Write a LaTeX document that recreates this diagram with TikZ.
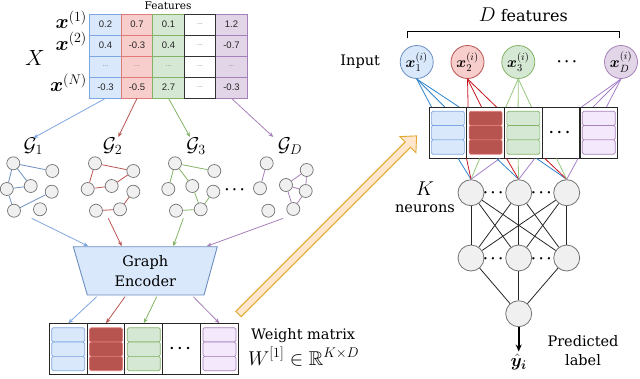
\RequirePackage{fix-cm}
\documentclass[tikz,border=0pt]{standalone}
\usepackage{amsmath,amssymb,bm}
\usepackage{fontspec}
\newfontfamily\dvs{DejaVu Serif}
\newfontfamily\lsans{Liberation Sans}
\usetikzlibrary{arrows.meta,calc}
\definecolor{bfill}{HTML}{DAE8FC}
\definecolor{bline}{HTML}{7EA6E0}
\definecolor{bdark}{HTML}{6C8EBF}
\definecolor{rfill}{HTML}{F8CECC}
\definecolor{rline}{HTML}{B85450}
\definecolor{rline2}{HTML}{E07A76}
\definecolor{rdark}{HTML}{B85450}
\definecolor{gfill}{HTML}{D5E8D4}
\definecolor{gline}{HTML}{82B366}
\definecolor{pfill}{HTML}{E1D5E7}
\definecolor{pline}{HTML}{A680B8}
\definecolor{plight}{HTML}{F4E8FC}
\definecolor{orfill}{HTML}{FFE6CC}
\definecolor{orline}{HTML}{E0A82E}
\definecolor{nblue}{HTML}{2F84CC}
\definecolor{nred}{HTML}{C8141E}
\definecolor{ngreen}{HTML}{97C77E}
\definecolor{npurple}{HTML}{A680C8}
\newcommand{\celldots}{\textcolor{black!50}{\fontsize{7}{7}\selectfont...}}
\newcommand{\mcolumn}[5]{%
  \node[mcol] (#1) at (#2,#3) {};
  \node[inr, fill=#4, draw=#5] (#1a) at ($(#1)+(0,-14.3)$) {};
  \node[inr, fill=#4, draw=#5] (#1b) at (#1) {};
  \node[inr, fill=#4, draw=#5] (#1c) at ($(#1)+(0,14.3)$) {};
}
\begin{document}
\begin{tikzpicture}[x=1pt,y=-1pt,
  cell/.style={draw, minimum width=31.5pt, minimum height=21pt, inner sep=0pt, line width=0.7pt, font=\lsans\fontsize{9.5}{10}\selectfont, text=black!85},
  cb/.style={cell, fill=bfill, draw=bline},
  cr/.style={cell, fill=rfill, draw=rline2},
  cg/.style={cell, fill=gfill, draw=gline},
  ck/.style={cell, fill=white, draw=black!80, line width=0.9pt},
  cp/.style={cell, fill=pfill, draw=pline},
  gn/.style={circle, draw=black!55, fill=black!6, line width=0.7pt, minimum size=13pt, inner sep=0pt},
  neu/.style={circle, draw=black!55, fill=black!6, line width=0.8pt, minimum size=26pt, inner sep=0pt},
  inp/.style={circle, line width=0.8pt, minimum size=33pt, inner sep=0pt, font=\fontsize{15}{15}\selectfont},
  mcol/.style={draw=black!85, line width=0.9pt, minimum width=37.8pt, minimum height=51pt, inner sep=0pt},
  inr/.style={rounded corners=1.5pt, minimum width=33pt, minimum height=14.3pt, inner sep=0pt, line width=0.7pt},
  arr/.style={-{Stealth[length=5pt,width=4pt]}, line width=0.8pt},
  ln/.style={line width=0.8pt},
  txt/.style={font=\dvs\fontsize{14.5}{18}\selectfont, inner sep=0pt},
  mth/.style={font=\fontsize{20}{24}\selectfont, inner sep=0pt},
  ddots/.style={font=\fontsize{15}{15}\selectfont, inner sep=0pt}
]
\useasboundingbox (0,0) rectangle (640,378);

% ---------- orange arrow ----------
\begin{scope}[shift={(238.5,314)}, x=1pt, y=1pt, rotate=45]
  \draw[draw=orline, fill=orfill, line width=0.9pt] (0,-3.8) -- (239.6,-3.8) -- (239.6,-11.3) -- (251.9,0) -- (239.6,11.3) -- (239.6,3.8) -- (0,3.8) -- cycle;
\end{scope}

% ---------- table X ----------
\node[font=\dvs\fontsize{10.5}{12}\selectfont, inner sep=0pt, anchor=base] (feat) at (168,9.5) {Features};
\node[mth, font=\fontsize{22}{26}\selectfont, anchor=base] (X) at (35,65) {$X$};
\node[mth, anchor=base east] (r1) at (87,28.5) {$\bm{x}^{(1)}$};
\node[mth, anchor=base east] (r2) at (87,50) {$\bm{x}^{(2)}$};
\node[mth, anchor=base east] (rN) at (87,91.5) {$\bm{x}^{(N)}$};

\node[cb] (c11) at (105.5,24.5) {0.2};
\node[cb] (c21) at (105.5,45.5) {0.4};
\node[cb] (c31) at (105.5,66.5) {\celldots};
\node[cb] (c41) at (105.5,87.5) {-0.3};
\node[cr] (c12) at (137,24.5) {0.7};
\node[cr] (c22) at (137,45.5) {-0.3};
\node[cr] (c32) at (137,66.5) {\celldots};
\node[cr] (c42) at (137,87.5) {-0.5};
\node[cg] (c13) at (168.5,24.5) {0.1};
\node[cg] (c23) at (168.5,45.5) {0.4};
\node[cg] (c33) at (168.5,66.5) {\celldots};
\node[cg] (c43) at (168.5,87.5) {2.7};
\node[cp] (c15) at (231.5,24.5) {1.2};
\node[cp] (c25) at (231.5,45.5) {-0.7};
\node[cp] (c35) at (231.5,66.5) {\celldots};
\node[cp] (c45) at (231.5,87.5) {-0.3};
\node[ck] (c14) at (200,24.5) {\celldots};
\node[ck] (c24) at (200,45.5) {\celldots};
\node[ck] (c34) at (200,66.5) {\celldots};
\node[ck] (c44) at (200,87.5) {\celldots};

% ---------- graph labels ----------
\node[mth, anchor=base] (G1) at (33.3,151) {$\mathcal{G}_1$};
\node[mth, anchor=base] (G2) at (112.5,151) {$\mathcal{G}_2$};
\node[mth, anchor=base] (G3) at (196,151) {$\mathcal{G}_3$};
\node[mth, anchor=base] (GD) at (290,151) {$\mathcal{G}_D$};

\coordinate (t1) at (33.3,138);
\coordinate (t2) at (118.3,137);
\coordinate (t3) at (190,137);
\coordinate (t4) at (273.3,137);
\draw[arr, bline] (c41.south) -- (t1);
\draw[arr, rline] (c42.south) -- (t2);
\draw[arr, gline] (c43.south) -- (t3);
\draw[arr, pline] (c45.south) -- (t4);

% ---------- graphs ----------
\node[gn] (g1a) at (13.3,163.3) {};
\node[gn] (g1b) at (52.3,171) {};
\node[gn] (g1c) at (6.8,189) {};
\node[gn] (g1d) at (30.7,186) {};
\node[gn] (g1e) at (51.7,191.7) {};
\node[gn] (g1f) at (14,210.7) {};
\node[gn] (g1g) at (40,209.3) {};
\draw[ln, bdark] (g1a) -- (g1b) (g1a) -- (g1d) (g1a) -- (g1c) (g1c) -- (g1d) (g1c) -- (g1f) (g1f) -- (g1e);

\node[gn] (g2a) at (95,163.3) {};
\node[gn] (g2b) at (133.3,171) {};
\node[gn] (g2c) at (87.7,189) {};
\node[gn] (g2d) at (111.7,186) {};
\node[gn] (g2e) at (133.3,191.7) {};
\node[gn] (g2f) at (96,210.7) {};
\node[gn] (g2g) at (120,209.3) {};
\draw[ln, rline] (g2a) -- (g2b) (g2a) -- (g2c) (g2c) -- (g2d) (g2d) -- (g2b) (g2e) -- (g2g) (g2f) -- (g2g);

\node[gn] (g3a) at (175,163.3) {};
\node[gn] (g3b) at (214.3,171) {};
\node[gn] (g3c) at (168.3,189) {};
\node[gn] (g3d) at (192.3,186) {};
\node[gn] (g3e) at (213.3,191.7) {};
\node[gn] (g3f) at (176,210.7) {};
\node[gn] (g3g) at (200.7,209.3) {};
\draw[ln, gline] (g3a) -- (g3b) (g3a) -- (g3c) (g3a) -- (g3d) (g3d) -- (g3g) (g3g) -- (g3e) (g3f) -- (g3g);

\node[ddots] (gdots) at (236,190) {$\bm{\cdots}$};

\node[gn] (g4a) at (266.7,163.3) {};
\node[gn] (g4c) at (260,188.3) {};
\node[gn] (g4f) at (268.3,210.7) {};
\node[gn] (g4b) at (306.7,170) {};
\node[gn] (g4d) at (286,185) {};
\node[gn] (g4e) at (305.7,191) {};
\node[gn] (g4g) at (293.3,209) {};
\draw[ln, pline] (g4a) -- (g4c) (g4d) -- (g4b) (g4d) -- (g4e) (g4b) -- (g4e) (g4d) -- (g4g) (g4e) -- (g4g);

% ---------- encoder ----------
\coordinate (encTL) at (73.3,246.7);
\coordinate (encTR) at (217.3,246.7);
\coordinate (encBR) at (204,295);
\coordinate (encBL) at (87.3,295);
\draw[fill=bfill, draw=bdark, line width=0.9pt] (encTL) -- (encTR) -- (encBR) -- (encBL) -- cycle;
\node[txt, anchor=base] (enc1) at (145.3,266.7) {Graph};
\node[txt, anchor=base] (enc2) at (145.3,286.7) {Encoder};

\coordinate (s1) at (31.7,218.3);
\coordinate (s2) at (108.3,218.3);
\coordinate (s3) at (183.3,218.3);
\coordinate (s4) at (283.3,218.3);
\coordinate (e1) at (88.3,246.2);
\coordinate (e2) at (121.7,246.2);
\coordinate (e3) at (173.3,246.2);
\coordinate (e4) at (206.7,246.2);
\draw[arr, bline] (s1) -- (e1);
\draw[arr, rline] (s2) -- (e2);
\draw[arr, gline] (s3) -- (e3);
\draw[arr, pline] (s4) -- (e4);

% ---------- weight matrix (left) ----------
\mcolumn{w1}{68.2}{349.2}{bfill}{bline}
\mcolumn{w2}{106}{349.2}{rdark}{rline2}
\mcolumn{w3}{143.8}{349.2}{gfill}{gline}
\node[mcol, font=\fontsize{16}{16}\selectfont] (w4) at (181.6,349.2) {$\bm{\cdots}$};
\mcolumn{w5}{219.4}{349.2}{plight}{pline}

\coordinate (b1) at (96.7,296.7);
\coordinate (b2) at (125,296.7);
\coordinate (b3) at (156.7,296.7);
\coordinate (b4) at (193.3,296.7);
\draw[arr, bline] (b1) -- (w1.north);
\draw[arr, rline] (b2) -- (w2.north);
\draw[arr, gline] (b3) -- (w3.north);
\draw[arr, pline] (b4) -- (w5.north);

\node[txt, anchor=base west] (wm) at (251,339) {Weight matrix};
\node[mth, anchor=base west] (wf) at (248,365) {$W^{[1]}\in\mathbb{R}^{K\times D}$};

% ---------- right: inputs ----------
\node[inner sep=0pt, anchor=base, font=\dvs\fontsize{16}{18}\selectfont] (Df) at (523.3,21.7) {{\fontsize{20}{20}\selectfont$D$} features};
\coordinate (brL) at (407.3,38.3);
\coordinate (brR) at (619,38.3);
\draw[line width=1pt] (brL) -- ++(0,-6.6) -| (brR);

\node[txt, anchor=base] (inlab) at (360.2,65.7) {Input};
\node[inp, fill=bfill, draw=bdark] (in1) at (416.7,62) {$\bm{x}_1^{(i)}$};
\node[inp, fill=rfill, draw=rline] (in2) at (467.5,62) {$\bm{x}_2^{(i)}$};
\node[inp, fill=gfill, draw=gline] (in3) at (518.3,62) {$\bm{x}_3^{(i)}$};
\node[ddots] (indots) at (568.3,61.7) {$\bm{\cdots}$};
\node[inp, fill=pfill, draw=pline] (inD) at (621,62) {$\bm{x}_D^{(i)}$};

% ---------- right matrix ----------
\node[minimum width=188.7pt, minimum height=51pt, inner sep=0pt] (rm) at (523.35,132.7) {};
\foreach \dx in {2.7,16,30.3} \draw[ln, nblue] (in1.south) -- ($(rm.north west)+(\dx,0)$);
\foreach \dx in {39.3,52.7,67.7} \draw[ln, nred] (in2.south) -- ($(rm.north west)+(\dx,0)$);
\foreach \dx in {77,89.3,102.7} \draw[ln, ngreen] (in3.south) -- ($(rm.north west)+(\dx,0)$);
\foreach \dx in {152.7,164.3,177.7} \draw[ln, npurple] (inD.south) -- ($(rm.north west)+(\dx,0)$);

\mcolumn{m1}{447.87}{132.7}{bfill}{bline}
\mcolumn{m2}{485.61}{132.7}{rdark}{rline2}
\mcolumn{m3}{523.35}{132.7}{gfill}{gline}
\node[mcol, font=\fontsize{16}{16}\selectfont] (m4) at (561.09,132.7) {$\bm{\cdots}$};
\mcolumn{m5}{598.83}{132.7}{plight}{pline}

% ---------- neurons ----------
\node[neu] (n1) at (471,192.7) {};
\node[neu] (n2) at (518.7,192.7) {};
\node[neu] (n3) at (566.7,192.7) {};
\node[ddots] (nd1) at (494.5,193.3) {$\bm{\cdots}$};
\node[ddots] (nd2) at (542.7,193.3) {$\bm{\cdots}$};
\node[neu] (h1) at (471,258) {};
\node[neu] (h2) at (518.7,258) {};
\node[neu] (h3) at (566.7,258) {};
\node[ddots] (hd1) at (494.5,258.5) {$\bm{\cdots}$};
\node[ddots] (hd2) at (542.7,258.5) {$\bm{\cdots}$};
\node[neu] (o) at (518.7,313.7) {};

\draw[ln, nblue] ($(rm.south west)+(29.3,0)$) -- (n1.north);
\draw[ln, nred] ($(rm.south west)+(37.7,0)$) -- (n1.north);
\draw[ln, ngreen] ($(rm.south west)+(51,0)$) -- (n1.north);
\draw[ln, npurple] ($(rm.south west)+(71,0)$) -- (n1.north);
\draw[ln, nblue] ($(rm.south west)+(67.7,0)$) -- (n2.north);
\draw[ln, nred] ($(rm.south west)+(77.7,0)$) -- (n2.north);
\draw[ln, ngreen] ($(rm.south west)+(89.3,0)$) -- (n2.north);
\draw[ln, npurple] ($(rm.south west)+(106,0)$) -- (n2.north);
\draw[ln, nblue] ($(rm.south west)+(107.7,0)$) -- (n3.north);
\draw[ln, nred] ($(rm.south west)+(116,0)$) -- (n3.north);
\draw[ln, ngreen] ($(rm.south west)+(127.7,0)$) -- (n3.north);
\draw[ln, npurple] ($(rm.south west)+(149.3,0)$) -- (n3.north);

\foreach \a in {n1,n2,n3} \foreach \b in {h1,h2,h3} \draw[ln, black!85] (\a) -- (\b);
\foreach \a in {h1,h2,h3} \draw[ln, black!85] (\a) -- (o);

\node[mth, font=\fontsize{18}{20}\selectfont, anchor=north] (yhat) at (518.7,354) {$\hat{\bm{y}}_{\bm{i}}$};
\coordinate (ytip) at (518.7,351.5);
\draw[-{Stealth[length=7pt,width=6pt]}, line width=1.6pt] (o.south) -- (ytip);

\node[mth, anchor=base] (Klab) at (425,195) {$K$};
\node[txt, anchor=base] (neur) at (425,212.7) {neurons};
\node[txt, anchor=base] (pred1) at (583,346.7) {Predicted};
\node[txt, anchor=base] (pred2) at (583,365) {label};
\end{tikzpicture}
\end{document}
